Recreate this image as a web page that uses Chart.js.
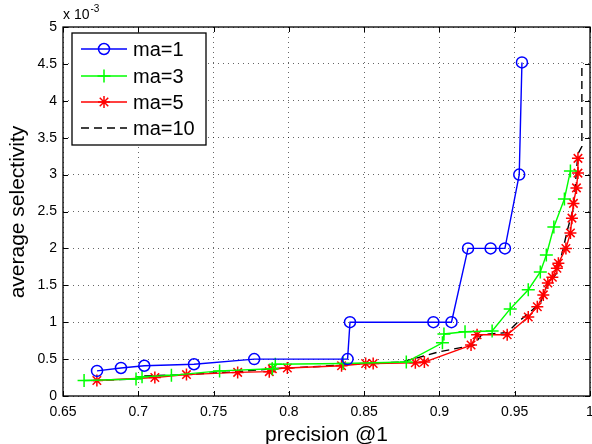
<!DOCTYPE html>
<html>
<head>
<meta charset="utf-8">
<script src="https://cdn.jsdelivr.net/npm/chart.js@4"></script>
<style>
  html, body { margin: 0; padding: 0; background: #fff; }
  #wrap { width: 592px; height: 444px; }
</style>
</head>
<body>
<div id="wrap"><canvas id="chart" width="592" height="444"></canvas></div>
<script>
// values (y in units of 1e-3)
const xTickLabels = ['0.65', '0.7', '0.75', '0.8', '0.85', '0.9', '0.95', '1'];
const yTickLabels = ['0', '0.5', '1', '1.5', '2', '2.5', '3', '3.5', '4', '4.5', '5'];

const ma1X = [0.6726, 0.6885, 0.704, 0.737, 0.777, 0.839, 0.8406, 0.896, 0.908, 0.919, 0.934, 0.9435, 0.953, 0.9548];
const ma1Y = [0.34, 0.38, 0.41, 0.43, 0.50, 0.50, 1.0, 1.0, 1.0, 2.0, 2.0, 2.0, 3.0, 4.52];

const ma3X = [0.664, 0.6985, 0.7025, 0.722, 0.754, 0.789, 0.791, 0.836, 0.878, 0.902, 0.903, 0.917, 0.935, 0.947, 0.959, 0.967, 0.971, 0.976, 0.983, 0.987];
const ma3Y = [0.21, 0.23, 0.26, 0.28, 0.34, 0.37, 0.43, 0.44, 0.46, 0.72, 0.84, 0.87, 0.88, 1.18, 1.44, 1.68, 1.91, 2.29, 2.67, 3.05];

const ma5X = [0.6725, 0.711, 0.732, 0.766, 0.787, 0.789, 0.799, 0.835, 0.851, 0.856, 0.884, 0.890, 0.921, 0.925, 0.945, 0.959, 0.965, 0.969, 0.972, 0.975, 0.978, 0.979, 0.984, 0.987, 0.988, 0.989, 0.991, 0.992, 0.992];
const ma5Y = [0.21, 0.25, 0.29, 0.32, 0.33, 0.37, 0.38, 0.41, 0.44, 0.44, 0.45, 0.46, 0.69, 0.83, 0.83, 1.07, 1.21, 1.37, 1.53, 1.61, 1.73, 1.80, 2.0, 2.21, 2.41, 2.61, 2.82, 3.02, 3.22];

const ma10X = [0.670, 0.699, 0.702, 0.732, 0.766, 0.790, 0.820, 0.850, 0.875, 0.900, 0.923, 0.928, 0.945, 0.952, 0.958, 0.967, 0.971, 0.978, 0.982, 0.985, 0.989, 0.990, 0.991, 0.992, 0.9946, 0.9946];
const ma10Y = [0.21, 0.23, 0.27, 0.29, 0.33, 0.37, 0.40, 0.44, 0.46, 0.60, 0.69, 0.83, 0.86, 1.0, 1.10, 1.26, 1.48, 1.67, 1.98, 2.25, 2.55, 2.79, 3.05, 3.28, 3.38, 4.52];

const FONT = '"Liberation Sans", Arial, Helvetica, sans-serif';

function toPoints(xs, ys) {
    return xs.map((x, i) => ({ x: x, y: ys[i] }));
}

function makeSet(label, xs, ys, color, style, radius, dash) {
    return {
        label: label,
        data: toPoints(xs, ys),
        showLine: true,
        borderColor: color,
        borderWidth: 1.4,
        borderDash: dash || [],
        pointStyle: style,
        pointRadius: radius,
        pointBorderColor: color,
        pointBackgroundColor: 'rgba(0,0,0,0)',
        pointBorderWidth: 1.5,
        tension: 0
    };
}

// simple marker for the legend box
function drawMarker(ctx, style, x, y, r, color) {
    ctx.save();
    ctx.strokeStyle = color;
    ctx.lineWidth = 1.5;
    ctx.beginPath();
    if (style === 'circle') {
        ctx.arc(x, y, r, 0, Math.PI * 2);
    } else if (style === 'cross' || style === 'star') {
        ctx.moveTo(x - r, y); ctx.lineTo(x + r, y);
        ctx.moveTo(x, y - r); ctx.lineTo(x, y + r);
        if (style === 'star') {
            const d = r * 0.707;
            ctx.moveTo(x - d, y - d); ctx.lineTo(x + d, y + d);
            ctx.moveTo(x - d, y + d); ctx.lineTo(x + d, y - d);
        }
    }
    ctx.stroke();
    ctx.restore();
}

const framePlugin = {
    id: 'frame',
    afterDraw(chart) {
        const ctx = chart.ctx;
        const a = chart.chartArea;
        const xs = chart.scales.x;
        const ys = chart.scales.y;
        ctx.save();

        // inward ticks on all four sides
        ctx.strokeStyle = '#000';
        ctx.lineWidth = 1;
        ctx.beginPath();
        xs.ticks.forEach(t => {
            const px = Math.round(xs.getPixelForValue(t.value)) + 0.5;
            ctx.moveTo(px, a.bottom); ctx.lineTo(px, a.bottom - 5);
            ctx.moveTo(px, a.top); ctx.lineTo(px, a.top + 5);
        });
        ys.ticks.forEach(t => {
            const py = Math.round(ys.getPixelForValue(t.value)) + 0.5;
            ctx.moveTo(a.left, py); ctx.lineTo(a.left + 5, py);
            ctx.moveTo(a.right, py); ctx.lineTo(a.right - 5, py);
        });
        ctx.stroke();

        // box
        ctx.lineWidth = 1.3;
        ctx.strokeRect(a.left, a.top, a.right - a.left, a.bottom - a.top);

        // axis titles
        ctx.fillStyle = '#000';
        ctx.font = '21px ' + FONT;
        ctx.textAlign = 'center';
        ctx.textBaseline = 'alphabetic';
        ctx.fillText('precision @1', (a.left + a.right) / 2, 441);
        ctx.save();
        ctx.translate(24, 212);
        ctx.rotate(-Math.PI / 2);
        ctx.fillText('average selectivity', 0, 0);
        ctx.restore();

        // exponent
        ctx.textAlign = 'left';
        ctx.font = '14px ' + FONT;
        ctx.fillText('x 10', 63, 19);
        const w = ctx.measureText('x 10').width;
        ctx.font = '10px ' + FONT;
        ctx.fillText('-3', 63 + w + 1, 12);

        // legend
        const box = { l: 72, t: 33, r: 206, b: 145 };
        ctx.fillStyle = '#fff';
        ctx.fillRect(box.l, box.t, box.r - box.l, box.b - box.t);
        ctx.strokeStyle = '#000';
        ctx.lineWidth = 1.3;
        ctx.strokeRect(box.l, box.t, box.r - box.l, box.b - box.t);
        const rows = [49, 76, 102, 128];
        chart.data.datasets.forEach((ds, i) => {
            const y = rows[i];
            ctx.save();
            ctx.strokeStyle = ds.borderColor;
            ctx.lineWidth = ds.borderWidth;
            ctx.setLineDash(ds.borderDash);
            ctx.beginPath();
            ctx.moveTo(81, y); ctx.lineTo(127, y);
            ctx.stroke();
            ctx.restore();
            if (ds.pointRadius > 0) {
                drawMarker(ctx, ds.pointStyle, 104, y, ds.pointRadius, ds.borderColor);
            }
            ctx.fillStyle = '#000';
            ctx.font = '20px ' + FONT;
            ctx.textAlign = 'left';
            ctx.textBaseline = 'middle';
            ctx.fillText(ds.label, 133, y + 1);
        });

        ctx.restore();
    }
};

new Chart(document.getElementById('chart'), {
    type: 'scatter',
    data: {
        datasets: [
            makeSet('ma=1', ma1X, ma1Y, '#0000ff', 'circle', 5.5),
            makeSet('ma=3', ma3X, ma3Y, '#00ff00', 'cross', 6.5),
            makeSet('ma=5', ma5X, ma5Y, '#ff0000', 'star', 6),
            makeSet('ma=10', ma10X, ma10Y, '#000000', 'circle', 0, [8, 5])
        ]
    },
    options: {
        responsive: false,
        animation: false,
        layout: { autoPadding: false, padding: { top: 27, right: 2, left: 0, bottom: 0 } },
        plugins: {
            legend: { display: false },
            tooltip: { enabled: false }
        },
        scales: {
            x: {
                type: 'linear',
                min: 0.65,
                max: 1,
                ticks: {
                    stepSize: 0.05,
                    padding: 8,
                    color: '#000',
                    font: { family: FONT, size: 14 },
                    maxRotation: 0,
                    callback: (v, i) => xTickLabels[i]
                },
                grid: { color: 'rgba(0,0,0,0.6)', lineWidth: 1, drawTicks: false },
                border: { display: false, dash: [1, 4] },
                afterFit: s => { s.height = 48; s.paddingRight = 0; }
            },
            y: {
                type: 'linear',
                min: 0,
                max: 5,
                ticks: {
                    stepSize: 0.5,
                    padding: 6,
                    color: '#000',
                    font: { family: FONT, size: 14 },
                    callback: (v, i) => yTickLabels[i]
                },
                grid: { color: 'rgba(0,0,0,0.6)', lineWidth: 1, drawTicks: false },
                border: { display: false, dash: [1, 4] },
                afterFit: s => { s.width = 63; }
            }
        }
    },
    plugins: [framePlugin]
});
</script>
</body>
</html>
